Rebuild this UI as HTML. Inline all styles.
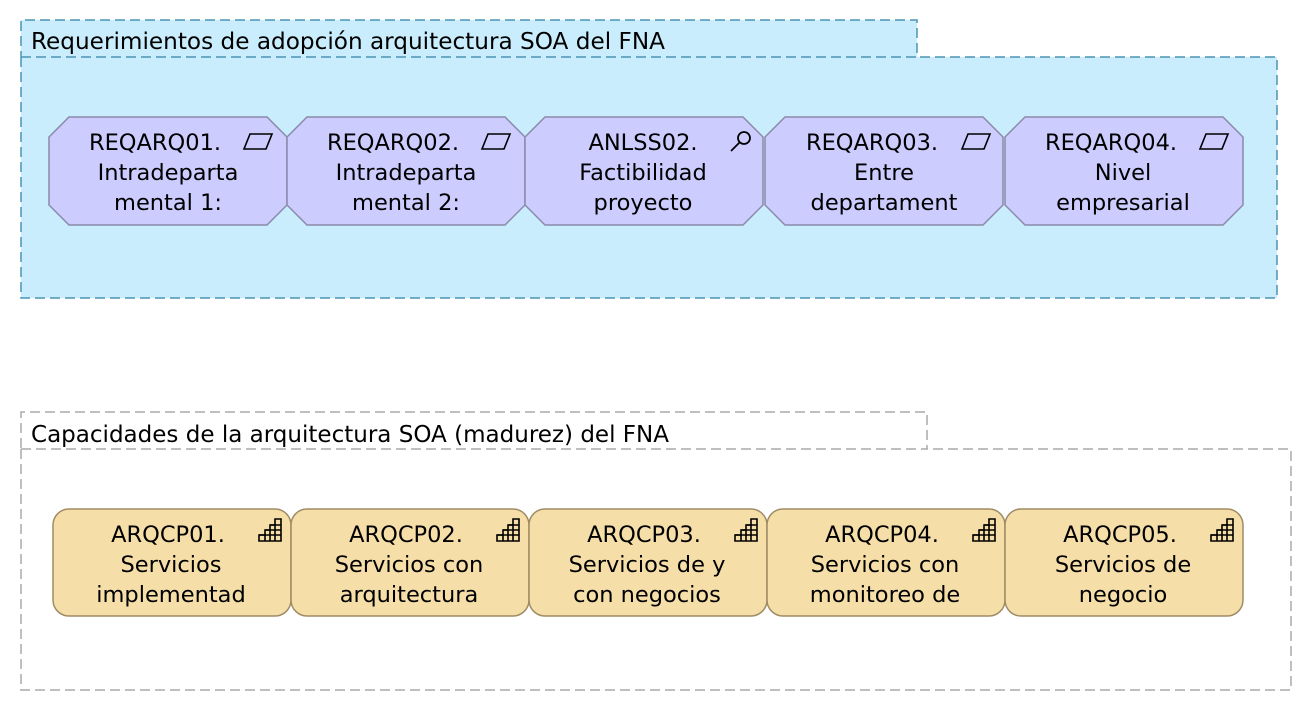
<!DOCTYPE html>
<html><head><meta charset="utf-8"><style>
html,body{margin:0;padding:0;background:#fff;}
svg{display:block;}
text{font-family:"DejaVu Sans","Liberation Sans",sans-serif;fill:#000;}
</style></head><body>
<svg width="1312" height="712" viewBox="0 0 1312 712" xmlns="http://www.w3.org/2000/svg">
<defs>
<g id="para"><path d="M6 0 H28 L22 15 H0 Z" fill="none" stroke="#000" stroke-width="1.6"/></g>
<g id="stairs" fill="none" stroke="#000" stroke-width="1.6">
<path d="M0 22 H22 V0 H16 V6 H11 V11 H6 V16 H0 Z"/>
<path d="M6 16 V22 M11 11 V22 M16 6 V22 M0 16 H22 M6 11 H22 M11 6 H22"/>
</g>
<g id="oct"><path d="M20 0 H218 L238 20 V88 L218 108 H20 L0 88 V20 Z" fill="#ccccff" stroke="#8a8aaa" stroke-width="1.5"/></g>
<g id="rr"><rect x="0" y="0" width="238" height="107" rx="16" fill="#f5dea8" stroke="#a08c64" stroke-width="1.5"/></g>
</defs>

<path d="M21 57 V20 H917 V57 H1277 V298 H21 Z" fill="#c9edfc"/>
<path d="M21 57 H917 V20 H21 Z M21 57 V298 H1277 V57 H917" fill="none" stroke="#4b93b3" stroke-width="1.5" stroke-dasharray="10,5"/>
<text x="31" y="49" font-size="23" textLength="634" lengthAdjust="spacingAndGlyphs">Requerimientos de adopción arquitectura SOA del FNA</text>

<g font-size="22.5" text-anchor="middle">
<use href="#oct" x="49" y="117"/>
<text x="155" y="150">REQARQ01.</text><text x="168" y="180">Intradeparta</text><text x="168" y="210">mental 1:</text>
<use href="#para" x="244" y="134"/>

<use href="#oct" x="287" y="117"/>
<text x="393" y="150">REQARQ02.</text><text x="406" y="180">Intradeparta</text><text x="406" y="210">mental 2:</text>
<use href="#para" x="482" y="134"/>

<use href="#oct" x="525" y="117"/>
<text x="643" y="150">ANLSS02.</text><text x="643" y="180">Factibilidad</text><text x="643" y="210">proyecto</text>
<g fill="none" stroke="#000" stroke-width="1.8"><circle cx="744" cy="138" r="6"/><path d="M739.5 142.5 L731 151"/></g>

<use href="#oct" x="765" y="117"/>
<text x="872" y="150">REQARQ03.</text><text x="884" y="180">Entre</text><text x="884" y="210">departament</text>
<use href="#para" x="962" y="134"/>

<use href="#oct" x="1005" y="117"/>
<text x="1111" y="150">REQARQ04.</text><text x="1123" y="180">Nivel</text><text x="1123" y="210">empresarial</text>
<use href="#para" x="1200" y="134"/>
</g>

<path d="M21 449 H927 V412 H21 Z M21 449 V690 H1291 V449 H927" fill="none" stroke="#aaaaaa" stroke-width="1.5" stroke-dasharray="10,5"/>
<text x="31" y="442" font-size="23" textLength="638" lengthAdjust="spacingAndGlyphs">Capacidades de la arquitectura SOA (madurez) del FNA</text>

<g font-size="22.5" text-anchor="middle">
<use href="#rr" x="53" y="509"/>
<text x="168" y="542">ARQCP01.</text><text x="171" y="572">Servicios</text><text x="171" y="602">implementad</text>
<use href="#stairs" x="259" y="519"/>

<use href="#rr" x="291" y="509"/>
<text x="406" y="542">ARQCP02.</text><text x="409" y="572">Servicios con</text><text x="409" y="602">arquitectura</text>
<use href="#stairs" x="497" y="519"/>

<use href="#rr" x="529" y="509"/>
<text x="644" y="542">ARQCP03.</text><text x="647" y="572">Servicios de y</text><text x="647" y="602">con negocios</text>
<use href="#stairs" x="735" y="519"/>

<use href="#rr" x="767" y="509"/>
<text x="882" y="542">ARQCP04.</text><text x="885" y="572">Servicios con</text><text x="885" y="602">monitoreo de</text>
<use href="#stairs" x="973" y="519"/>

<use href="#rr" x="1005" y="509"/>
<text x="1120" y="542">ARQCP05.</text><text x="1123" y="572">Servicios de</text><text x="1123" y="602">negocio</text>
<use href="#stairs" x="1211" y="519"/>
</g>
</svg>
</body></html>
